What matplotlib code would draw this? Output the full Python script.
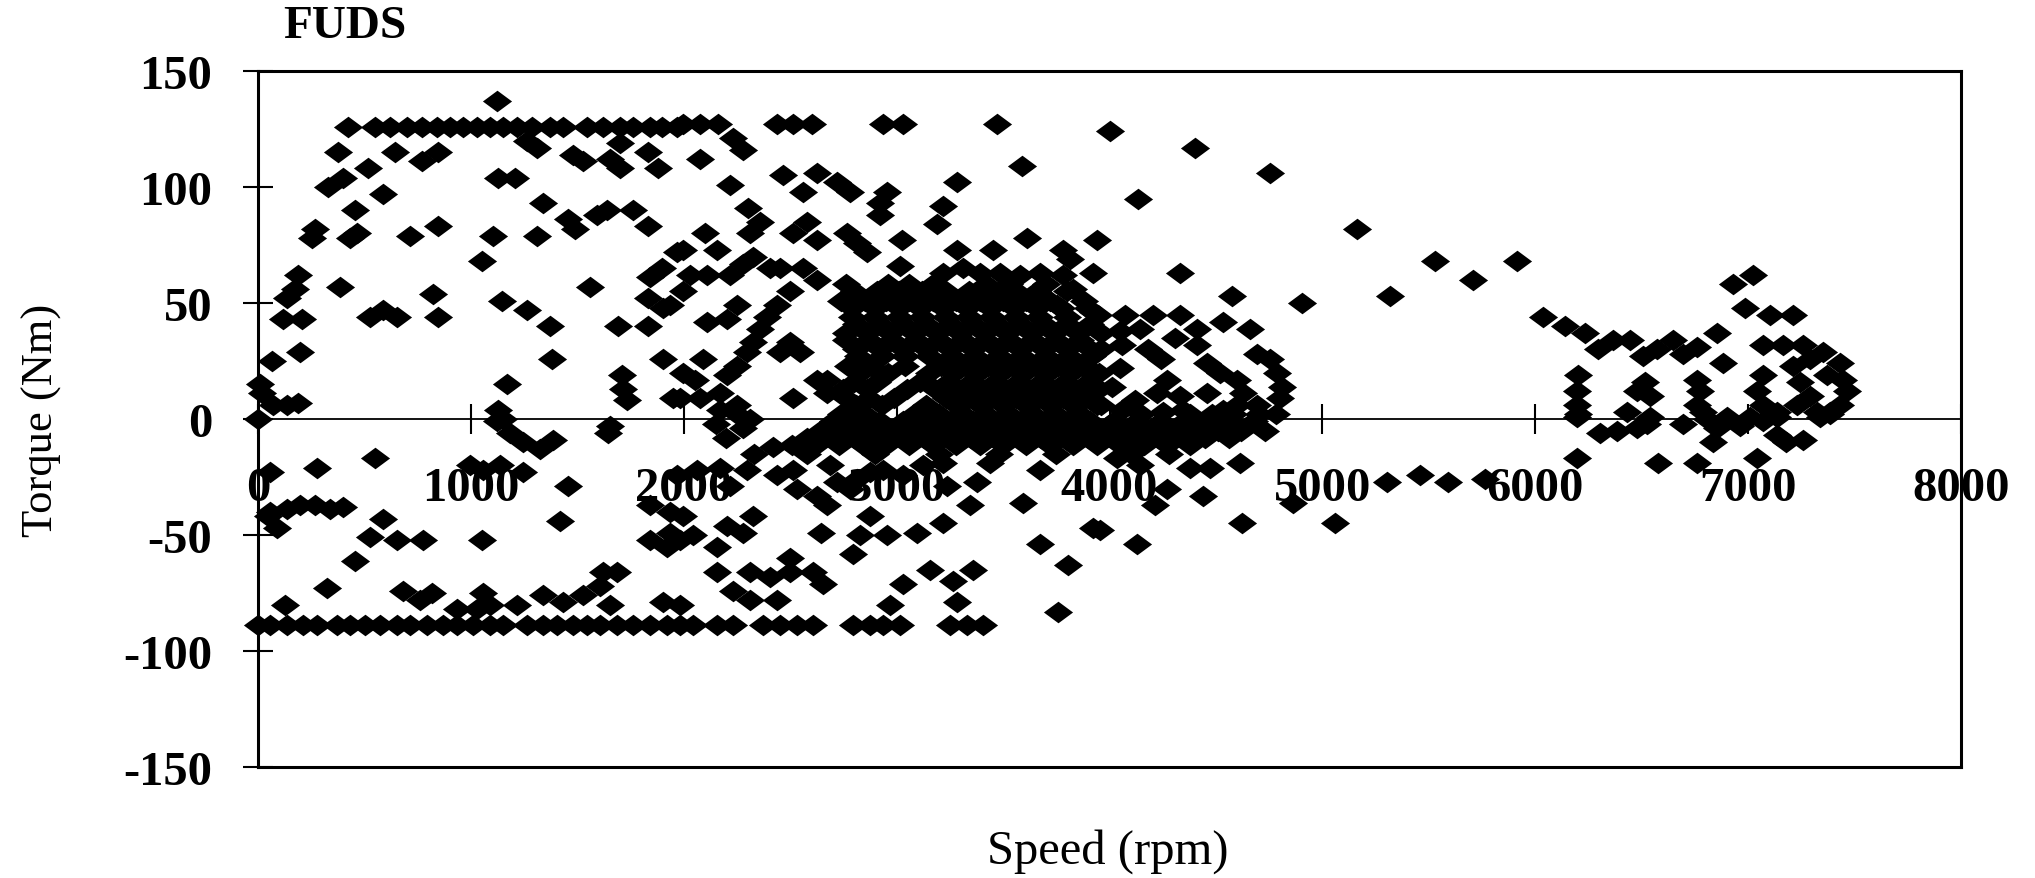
import matplotlib
matplotlib.use("Agg")
import matplotlib.pyplot as plt

# operating points, (rpm, Nm)
low_upper = [
    (1121, 137),
    (424, 126), (550, 126), (620, 126), (698, 126), (769, 126), (839, 126),
    (902, 126), (965, 126), (1027, 126), (1090, 126), (1153, 126), (1215, 126),
    (1286, 126), (1372, 126), (1434, 126), (1544, 126), (1622, 126), (1700, 126),
    (1763, 126), (1842, 126), (1896, 126), (1967, 126),
    (1262, 120), (1309, 117), (377, 115), (644, 115), (769, 111), (847, 115),
    (1481, 114), (1528, 111), (1653, 112), (1700, 108), (1700, 119), (1834, 115),
    (1881, 108), (518, 108), (401, 104), (330, 100), (1129, 104), (1207, 104),
    (589, 97), (1340, 93), (456, 90), (1458, 86), (1489, 82), (1591, 88),
    (1638, 90), (1763, 90), (1834, 83), (268, 82), (252, 78), (432, 78),
    (463, 80), (714, 79), (847, 83), (1106, 79), (1309, 79), (1051, 68),
    (1967, 72), (1896, 65), (1841, 61), (190, 62), (174, 56), (135, 52),
    (385, 57), (824, 54), (1145, 51), (1262, 47), (1560, 57), (1834, 52),
    (1904, 48), (119, 43), (205, 43), (526, 44), (589, 47), (651, 44),
    (847, 44), (1372, 40), (1693, 40), (1834, 40), (64, 25), (197, 29),
    (1380, 26), (1904, 26), (1168, 15), (1709, 19), (1716, 13), (1732, 8),
    (1951, 9), (9, 15), (17, 11), (72, 6), (135, 6), (190, 7), (1129, 4),
    (1153, 0), (0, 0), (1653, -3),
]

mid_upper = [
    (1998, 127), (2076, 127), (2162, 127), (2436, 127), (2514, 127), (2601, 127),
    (2937, 127), (3031, 127), (3470, 127),
    (2233, 121), (2280, 116), (2076, 112), (3587, 109), (2467, 105), (2624, 106),
    (2217, 101), (2561, 98), (2718, 102), (2781, 98), (3282, 102), (2953, 98),
    (2922, 93), (2922, 88), (3219, 92), (3188, 84), (2303, 91), (2358, 85),
    (2311, 80), (2099, 80), (2577, 85), (2514, 80), (2624, 77), (2765, 80),
    (2812, 76), (2859, 72), (3023, 77), (1998, 73), (2154, 73), (3282, 73),
    (3454, 73), (3611, 78), (3783, 73), (3814, 69), (3939, 77), (2029, 62),
    (2107, 62), (2217, 62), (2280, 67), (2327, 70), (2405, 65), (2452, 65),
    (2561, 65), (2624, 60), (3015, 66), (3219, 63), (3313, 65), (3391, 63),
    (3485, 63), (3579, 62), (3673, 63), (3783, 62), (3830, 56), (3924, 63),
    (1998, 55), (1935, 49), (2248, 49), (2201, 43), (2107, 42), (2499, 55),
    (2436, 49), (2389, 44), (3752, 49), (3924, 46), (2358, 39), (2327, 33),
    (2499, 33), (2546, 29), (2452, 29), (2092, 26), (1998, 20), (2052, 17),
    (2295, 29), (2248, 23), (2201, 19), (2624, 17), (1982, 9), (2076, 9),
    (2170, 11), (2170, 4), (2248, 6), (2311, 0), (2514, 9), (2671, 17),
    (2671, 11), (2150, -2), (2200, -8), (2280, -4), (2250, 2),
]

# the dense cluster around 3000-4000 rpm
cluster = [
    (2760, 58), (2960, 58), (3060, 58), (3170, 58), (3420, 58), (3530, 58), (3700, 58),
    (2800, 55), (2910, 55), (3010, 55), (3120, 55), (3230, 55), (3340, 55),
    (3450, 55), (3560, 55), (3660, 55), (3800, 55),
    (2740, 51), (2850, 51), (2950, 51), (3060, 51), (3170, 51), (3280, 51),
    (3390, 51), (3500, 51), (3610, 51), (3720, 51), (3880, 51),
    (2790, 48), (2900, 48), (3010, 48), (3110, 48), (3220, 48), (3330, 48),
    (3440, 48), (3550, 48), (3660, 48), (3770, 48), (3900, 48),
    (2790, 44), (2900, 44), (3010, 44), (3120, 44), (3230, 44), (3340, 44),
    (3450, 44), (3560, 44), (3670, 44), (3800, 44),
    (2810, 41), (2920, 41), (3030, 41), (3140, 41), (3250, 41), (3360, 41),
    (3470, 41), (3580, 41), (3690, 41), (3800, 41), (3910, 41),
    (2760, 37), (2860, 37), (2970, 37), (3080, 37), (3190, 37), (3300, 37),
    (3410, 37), (3520, 37), (3630, 37), (3740, 37), (3850, 37), (3960, 37),
    (2760, 34), (2870, 34), (2980, 34), (3090, 34), (3200, 34), (3310, 34),
    (3420, 34), (3530, 34), (3640, 34), (3750, 34), (3860, 34),
    (2810, 30), (2920, 30), (3030, 30), (3140, 30), (3250, 30), (3360, 30),
    (3470, 30), (3580, 30), (3690, 30), (3800, 30), (3910, 30),
    (2820, 27), (2930, 27), (3040, 27), (3150, 27), (3260, 27), (3370, 27),
    (3480, 27), (3590, 27), (3700, 27), (3810, 27), (3920, 27),
    (2770, 23), (2880, 23), (3040, 23), (3210, 23), (3320, 23), (3430, 23),
    (3540, 23), (3650, 23), (3760, 23), (3870, 23),
    (2830, 20), (2960, 20), (3150, 20), (3270, 20), (3380, 20), (3490, 20),
    (3600, 20), (3710, 20), (3820, 20), (3930, 20),
    (2800, 16), (2910, 16), (3110, 16), (3240, 16), (3350, 16), (3460, 16),
    (3570, 16), (3680, 16), (3790, 16), (3900, 16),
    (2750, 13), (2860, 13), (3050, 13), (3180, 13), (3290, 13), (3400, 13),
    (3510, 13), (3620, 13), (3730, 13), (3840, 13), (3950, 13),
    (2760, 9), (2870, 9), (2990, 9), (3230, 9), (3340, 9), (3450, 9),
    (3560, 9), (3670, 9), (3780, 9), (3890, 9),
    (2810, 6), (2930, 6), (3140, 6), (3280, 6), (3390, 6), (3500, 6),
    (3610, 6), (3720, 6), (3830, 6), (3940, 6),
    (2740, 2), (2850, 2), (3080, 2), (3200, 2), (3310, 2), (3420, 2),
    (3530, 2), (3640, 2), (3750, 2), (3860, 2), (4380, 2), (4480, 2),
    (4580, 2), (4700, 2), (4780, 2),
    (2700, -1), (2800, -1), (2920, -1), (3030, -1), (3140, -1), (3250, -1),
    (3360, -1), (3470, -1), (3580, -1), (3690, -1), (3800, -1), (3910, -1),
    (4020, -1), (4130, -1), (4240, -1), (4350, -1), (4460, -1), (4570, -1),
    (4680, -1),
    (2640, -5), (2750, -5), (2860, -5), (2970, -5), (3080, -5), (3190, -5),
    (3300, -5), (3410, -5), (3520, -5), (3630, -5), (3740, -5), (3850, -5),
    (3960, -5), (4070, -5), (4180, -5), (4290, -5), (4400, -5), (4510, -5),
    (4620, -5), (4730, -5),
    (2580, -8), (2690, -8), (2800, -8), (2910, -8), (3020, -8), (3130, -8),
    (3240, -8), (3350, -8), (3460, -8), (3570, -8), (3680, -8), (3790, -8),
    (3900, -8), (4010, -8), (4120, -8), (4230, -8), (4340, -8), (4450, -8),
    (4560, -8),
    (2510, -11), (2620, -11), (2730, -11), (2840, -11), (2950, -11), (3060, -11),
    (3170, -11), (3280, -11), (3390, -11), (3500, -11), (3610, -11), (3720, -11),
    (3830, -11), (3940, -11), (4050, -11), (4160, -11), (4270, -11), (4380, -11),
    (2330, -15), (2580, -15), (2900, -15), (3200, -15), (3480, -15), (3750, -15),
    (4100, -15), (4280, -15),
    (3960, 30), (4060, 32), (4180, 30), (4240, 26), (3950, 20), (4010, 14),
    (4050, 22), (3960, 6), (4060, 4), (4150, 2), (4250, 3), (4120, 8), (4000, -2),
]

high_upper = [
    (4002, 124), (4401, 117), (4754, 106), (4135, 95), (5161, 82), (5529, 68),
    (5709, 60), (5912, 68), (4331, 63), (5317, 53), (4574, 53), (4902, 50),
    (3947, 45), (4072, 45), (4205, 45), (4331, 45), (4534, 42), (4660, 39),
    (4049, 38), (4143, 39), (4307, 35), (4409, 39), (4409, 32), (4456, 24),
    (4519, 20), (4691, 28), (4754, 26), (4785, 20), (4808, 14), (4801, 9),
    (4597, 17), (4628, 11), (4597, 6), (4691, 6), (4456, 11), (4534, 4),
    (4268, 17), (4221, 11), (4331, 10), (4346, 4),
    (6038, 44), (6139, 40), (6233, 37), (6296, 30), (6366, 34), (6445, 34),
    (6507, 27), (6570, 30), (6648, 34), (6695, 28), (6758, 31), (6852, 37),
    (6883, 24), (6930, 58), (7024, 62), (6985, 48), (7102, 45), (7212, 45),
    (6202, 19), (6194, 12), (6194, 6), (6202, 2), (6515, 16), (6539, 10),
    (6476, 12), (6758, 17), (6774, 12), (6758, 6), (6805, 0), (7071, 32),
    (7165, 32), (7259, 32), (7353, 29), (7431, 24), (7447, 17), (7463, 12),
    (7431, 6), (7384, 2), (7322, 3), (7071, 19), (7040, 12), (7071, 6),
    (7134, 3), (7212, 23), (7243, 16), (7290, 10), (7228, 6), (7290, 26),
    (7369, 19),
]

low_lower = [
    (56, -23), (276, -21), (550, -17), (49, -42), (88, -47), (135, -39),
    (197, -37), (268, -37), (338, -39), (401, -38), (56, -40), (589, -43),
    (526, -51), (651, -52), (777, -52), (456, -61), (323, -73), (127, -80),
    (1051, -52), (1458, -29), (1419, -44), (1646, -6), (1622, -66), (1685, -66),
    (1607, -72), (683, -74), (816, -75), (761, -78), (1059, -75), (1090, -80),
    (1027, -82), (1215, -80), (1340, -76), (1434, -79), (1528, -76), (1653, -80),
    (933, -82), (1904, -79),
    (0, -89), (56, -89), (135, -89), (213, -89), (276, -89), (370, -89),
    (432, -89), (503, -89), (573, -89), (651, -89), (714, -89), (792, -89),
    (871, -89), (933, -89), (1012, -89), (1090, -89), (1153, -89), (1262, -89),
    (1340, -89), (1403, -89), (1481, -89), (1544, -89), (1607, -89), (1685, -89),
    (1763, -89), (1842, -89), (1920, -89), (1982, -89),
    (1121, -1), (1184, -6), (1246, -10), (1325, -13), (1388, -9),
    (996, -20), (1059, -22), (1137, -20), (1247, -23),
    (1842, -37), (1936, -40), (1842, -52), (1920, -55),
]

mid_lower = [
    (2420, -12), (1966, -24), (2060, -22), (2170, -21), (2295, -22), (2217, -29),
    (2436, -24), (2514, -22), (2530, -30), (2624, -33), (2671, -37), (2687, -20),
    (2718, -27), (2781, -30), (2812, -26), (2875, -23), (2937, -22), (3031, -24),
    (3125, -20), (3219, -19), (3235, -29), (3376, -27), (3344, -37), (3438, -19),
    (3673, -22), (3595, -36), (3924, -47), (1998, -42), (1935, -49), (2327, -42),
    (2280, -49), (2201, -46), (1982, -52), (2045, -50), (2154, -55), (2647, -49),
    (2875, -42), (2828, -50), (2796, -58), (2953, -50), (3094, -49), (3219, -45),
    (3673, -54), (3806, -63), (2154, -66), (2311, -66), (2405, -68), (2499, -60),
    (2499, -66), (2608, -66), (2655, -71), (2233, -74), (2311, -78), (2436, -78),
    (1982, -80), (3031, -71), (2969, -80), (3156, -65), (3266, -70), (3360, -65),
    (3282, -79), (3759, -83),
    (2045, -89), (2154, -89), (2233, -89), (2373, -89), (2452, -89), (2530, -89),
    (2608, -89), (2796, -89), (2875, -89), (2937, -89), (3015, -89), (3250, -89),
    (3329, -89), (3407, -89),
]

high_lower = [
    (4033, -17), (4143, -20), (4378, -21), (4472, -21), (4613, -19), (4268, -30),
    (4213, -37), (4440, -33), (4863, -36), (4621, -45), (5059, -45), (3955, -48),
    (4127, -54), (5302, -27), (5458, -24), (5591, -27), (5764, -26),
    (6194, -17), (6578, -19), (6758, -19), (7040, -17), (6304, -6), (6382, -5),
    (6476, -4), (6523, -2), (6695, -2), (6836, -10), (6852, -4), (6961, -3),
    (7071, -1), (7134, -7), (7180, -10), (7259, -9), (6194, 1), (6429, 3),
    (6539, 1), (7337, 1), (7384, 3), (6789, 3), (6899, 1), (7009, 1), (7134, 1),
]

x_ticks = [0, 1000, 2000, 3000, 4000, 5000, 6000, 7000, 8000]
y_ticks = [-150, -100, -50, 0, 50, 100, 150]

plt.rcParams["font.family"] = ["Liberation Serif", "DejaVu Serif"]
plt.rcParams["axes.unicode_minus"] = False

points = low_upper + mid_upper + cluster + high_upper + low_lower + mid_lower + high_lower
speed = [p[0] for p in points]
torque = [p[1] for p in points]

fig = plt.figure(figsize=(20.35, 8.79), dpi=100)
ax = fig.add_axes([258 / 2035, 1 - 768 / 879, 1703 / 2035, 696 / 879])

diamond = [(-1, 0), (0, 0.74), (1, 0), (0, -0.74), (-1, 0)]
ax.plot(speed, torque, linestyle="none", marker=diamond, ms=21,
        color="black", mew=0, clip_on=False, zorder=3)

ax.set_xlim(0, 8000)
ax.set_ylim(-150, 150)

# x axis runs along torque = 0, the frame is closed by a line at -150
ax.spines["bottom"].set_position(("data", 0))
ax.spines["bottom"].set_linewidth(1.3)
for side in ("left", "top", "right"):
    ax.spines[side].set_linewidth(2.2)
ax.axhline(-150, color="black", lw=2.2, clip_on=False)

ax.set_xticks(x_ticks)
ax.set_yticks(y_ticks)
ax.tick_params(axis="x", direction="inout", length=22, width=1.5, pad=23, labelsize=35)
ax.tick_params(axis="y", direction="inout", length=22, width=1.5, pad=22, labelsize=35)
for lab in ax.get_xticklabels() + ax.get_yticklabels():
    lab.set_fontweight("bold")

fig.text(283 / 2035, 1 - 27 / 879, "FUDS", fontsize=34, fontweight="bold",
         ha="left", va="center")
fig.text(42 / 2035, 1 - 420 / 879, "Torque (Nm)", rotation=90, fontsize=32,
         ha="center", va="center")
fig.text(1108 / 2035, 1 - 852 / 879, "Speed (rpm)", fontsize=35,
         ha="center", va="center")

fig.savefig("out.png", dpi=100)
